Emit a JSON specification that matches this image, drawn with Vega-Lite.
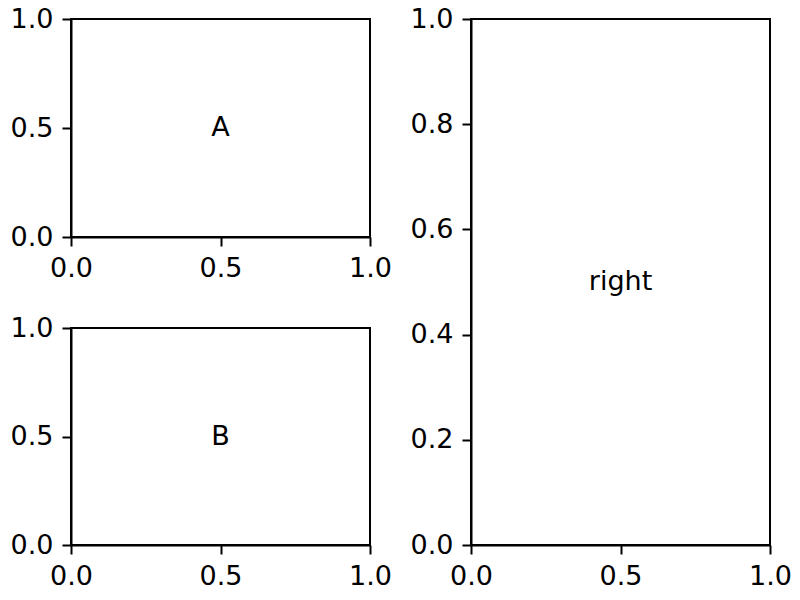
{
  "$schema": "https://vega.github.io/schema/vega-lite/v6.json",
  "padding": {"left": 9, "top": 4, "right": 0, "bottom": 0},
  "background": "white",
  "spacing": 16,
  "config": {
    "view": {"stroke": "black", "strokeWidth": 2},
    "axis": {
      "domainColor": "black", "domainWidth": 2,
      "tickColor": "black", "tickWidth": 2, "tickSize": 9,
      "labelFont": "DejaVu Sans", "labelFontSize": 27, "labelColor": "black",
      "labelPadding": 9, "grid": false, "labelFlush": false, "labelOverlap": false,
      "title": null
    },
    "text": {"font": "DejaVu Sans", "fontSize": 27, "color": "black"}
  },
  "hconcat": [
    {
      "bounds": "flush",
      "spacing": 91,
      "vconcat": [
        {
          "width": 299, "height": 218,
          "data": {"values": [{"x": 0.5, "y": 0.5, "label": "A"}]},
          "mark": {"type": "text"},
          "encoding": {
            "x": {"field": "x", "type": "quantitative", "scale": {"domain": [0, 1], "nice": false, "zero": false}, "axis": {"values": [0, 0.5, 1], "format": ".1f"}},
            "y": {"field": "y", "type": "quantitative", "scale": {"domain": [0, 1], "nice": false, "zero": false}, "axis": {"values": [0, 0.5, 1], "format": ".1f"}},
            "text": {"field": "label"}
          }
        },
        {
          "width": 299, "height": 217,
          "data": {"values": [{"x": 0.5, "y": 0.5, "label": "B"}]},
          "mark": {"type": "text"},
          "encoding": {
            "x": {"field": "x", "type": "quantitative", "scale": {"domain": [0, 1], "nice": false, "zero": false}, "axis": {"values": [0, 0.5, 1], "format": ".1f"}},
            "y": {"field": "y", "type": "quantitative", "scale": {"domain": [0, 1], "nice": false, "zero": false}, "axis": {"values": [0, 0.5, 1], "format": ".1f"}},
            "text": {"field": "label"}
          }
        }
      ]
    },
    {
      "width": 299, "height": 526,
      "data": {"values": [{"x": 0.5, "y": 0.5, "label": "right"}]},
      "mark": {"type": "text"},
      "encoding": {
        "x": {"field": "x", "type": "quantitative", "scale": {"domain": [0, 1], "nice": false, "zero": false}, "axis": {"values": [0, 0.5, 1], "format": ".1f"}},
        "y": {"field": "y", "type": "quantitative", "scale": {"domain": [0, 1], "nice": false, "zero": false}, "axis": {"values": [0, 0.2, 0.4, 0.6, 0.8, 1], "format": ".1f"}},
        "text": {"field": "label"}
      }
    }
  ]
}
